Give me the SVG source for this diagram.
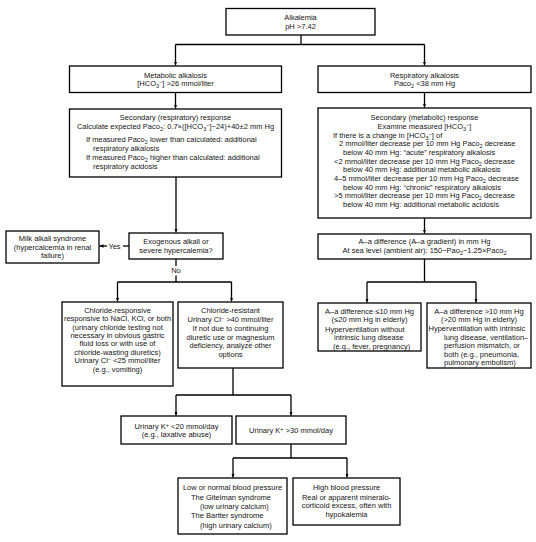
<svg xmlns="http://www.w3.org/2000/svg" width="536" height="542" viewBox="0 0 536 542">
<style>
text{font-family:"Liberation Sans",Arial,sans-serif;font-size:7.5px;fill:#151515}
.c{text-anchor:middle}
.box{fill:#fff;stroke:#000;stroke-width:1.3}
.ln{fill:none;stroke:#000;stroke-width:1.3}
.sb{font-size:5.5px;baseline-shift:-1.5px}
.sp{font-size:5.5px;baseline-shift:2px}
</style>
<defs>
<marker id="ah" markerUnits="userSpaceOnUse" viewBox="0 0 4 4" markerWidth="4" markerHeight="4" refX="4" refY="2" orient="auto">
<path d="M0,0.3 L4,2 L0,3.7 z" fill="#000"/>
</marker>
</defs>
<rect width="536" height="542" fill="#fff"/>

<g id="connectors">
<path class="ln" d="M301,35 V44.5 M175.5,44.5 H424.5"/>
<path class="ln" d="M175.5,44.5 V65.5" marker-end="url(#ah)"/>
<path class="ln" d="M424.5,44.5 V65.5" marker-end="url(#ah)"/>
<path class="ln" d="M175.5,92.5 V108.5" marker-end="url(#ah)"/>
<path class="ln" d="M424.5,92.5 V107.5" marker-end="url(#ah)"/>
<path class="ln" d="M176,177 V232.5" marker-end="url(#ah)"/>
<path class="ln" d="M129,246 H123"/>
<text x="114.5" y="248.6" class="c">Yes</text>
<path class="ln" d="M107,246 H99.5" marker-end="url(#ah)"/>
<path class="ln" d="M176,259 V266 M176,275.5 V282 M117.5,282 H231.5"/>
<text x="176" y="273.2" class="c">No</text>
<path class="ln" d="M117.5,282 V301.5" marker-end="url(#ah)"/>
<path class="ln" d="M231.5,282 V301.5" marker-end="url(#ah)"/>
<path class="ln" d="M424.5,218 V233.5" marker-end="url(#ah)"/>
<path class="ln" d="M424.5,259 V282 M367,282 H476"/>
<path class="ln" d="M367,282 V302.5" marker-end="url(#ah)"/>
<path class="ln" d="M476,282 V302.5" marker-end="url(#ah)"/>
<path class="ln" d="M233,368 V395 M176,395 H291"/>
<path class="ln" d="M176,395 V415.5" marker-end="url(#ah)"/>
<path class="ln" d="M291,395 V415.5" marker-end="url(#ah)"/>
<path class="ln" d="M291,444 V458 M233,458 H347"/>
<path class="ln" d="M233,458 V477.5" marker-end="url(#ah)"/>
<path class="ln" d="M347,458 V477.5" marker-end="url(#ah)"/>
</g>

<g id="alkalemia">
<rect class="box" x="226" y="8.5" width="149" height="26.5"/>
<text x="300.5" y="19.8" class="c">Alkalemia</text>
<text x="300.5" y="28.6" class="c">pH &gt;7.42</text>
</g>

<g id="metabolic">
<rect class="box" x="69.5" y="66" width="212" height="26.5"/>
<text x="175.5" y="77.6" class="c">Metabolic alkalosis</text>
<text x="175.5" y="86.1" class="c">[HCO<tspan class="sb">3</tspan><tspan class="sp">−</tspan>] &gt;26 mmol/liter</text>
</g>

<g id="respiratory">
<rect class="box" x="318" y="66" width="213" height="26.5"/>
<text x="424.5" y="77.6" class="c">Respiratory alkalosis</text>
<text x="424.5" y="86.1" class="c">Paco<tspan class="sb">2</tspan> &lt;38 mm Hg</text>
</g>

<g id="secondary-resp">
<rect class="box" x="69.5" y="109" width="212" height="68"/>
<text x="175.5" y="120.1" class="c">Secondary (respiratory) response</text>
<text x="175.5" y="128.6" class="c">Calculate expected Paco<tspan class="sb">2</tspan>: 0.7×([HCO<tspan class="sb">3</tspan><tspan class="sp">−</tspan>]−24)+40±2 mm Hg</text>
<text x="86" y="142.1">If measured Paco<tspan class="sb">2</tspan> lower than calculated: additional</text>
<text x="93" y="150.6">respiratory alkalosis</text>
<text x="86" y="160.1">If measured Paco<tspan class="sb">2</tspan> higher than calculated: additional</text>
<text x="93" y="168.6">respiratory acidosis</text>
</g>

<g id="secondary-metab">
<rect class="box" x="318" y="108" width="213" height="110"/>
<text x="424.5" y="120.3" class="c">Secondary (metabolic) response</text>
<text x="424.5" y="129.3" class="c">Examine measured [HCO<tspan class="sb">3</tspan><tspan class="sp">−</tspan>]</text>
<text x="333" y="137.6">If there is a change in [HCO<tspan class="sb">3</tspan><tspan class="sp">−</tspan>] of</text>
<text x="339" y="145.9">2 mmol/liter decrease per 10 mm Hg Paco<tspan class="sb">2</tspan> decrease</text>
<text x="343" y="154.9">below 40 mm Hg: “acute” respiratory alkalosis</text>
<text x="334" y="163.6">&lt;2 mmol/liter decrease per 10 mm Hg Paco<tspan class="sb">2</tspan> decrease</text>
<text x="343" y="172.3">below 40 mm Hg: additional metabolic alkalosis</text>
<text x="334" y="181.3">4–5 mmol/liter decrease per 10 mm Hg Paco<tspan class="sb">2</tspan> decrease</text>
<text x="343" y="189.6">below 40 mm Hg: “chronic” respiratory alkalosis</text>
<text x="334" y="198.3">&gt;5 mmol/liter decrease per 10 mm Hg Paco<tspan class="sb">2</tspan> decrease</text>
<text x="343" y="206.6">below 40 mm Hg: additional metabolic acidosis</text>
</g>

<g id="milk-alkali">
<rect class="box" x="6" y="231" width="93" height="32"/>
<text x="52.5" y="241.1" class="c">Milk alkali syndrome</text>
<text x="52.5" y="249.6" class="c">(hypercalcemia in renal</text>
<text x="52.5" y="258.1" class="c">failure)</text>
</g>

<g id="exogenous">
<rect class="box" x="129" y="233" width="94" height="26"/>
<text x="176" y="244.1" class="c">Exogenous alkali or</text>
<text x="176" y="252.6" class="c">severe hypercalemia?</text>
</g>

<g id="chloride-responsive">
<rect class="box" x="62" y="302" width="111" height="84"/>
<text x="117.5" y="312.8" class="c">Chloride-responsive</text>
<text x="117.5" y="321.1" class="c">responsive to NaCl, KCl, or both</text>
<text x="117.5" y="329.6" class="c">(urinary chloride testing not</text>
<text x="117.5" y="338" class="c">necessary in obvious gastric</text>
<text x="117.5" y="346.3" class="c">fluid loss or with use of</text>
<text x="117.5" y="354.6" class="c">chloride-wasting diuretics)</text>
<text x="117.5" y="363.4" class="c">Urinary Cl<tspan class="sp">−</tspan> &lt;25 mmol/liter</text>
<text x="117.5" y="372.4" class="c">(e.g., vomiting)</text>
</g>

<g id="chloride-resistant">
<rect class="box" x="178" y="302" width="105" height="66"/>
<text x="230.5" y="312.8" class="c">Chloride-resistant</text>
<text x="230.5" y="321.8" class="c">Urinary Cl<tspan class="sp">−</tspan> &gt;40 mmol/liter</text>
<text x="230.5" y="331.3" class="c">If not due to continuing</text>
<text x="230.5" y="339.6" class="c">diuretic use or magnesium</text>
<text x="230.5" y="347.9" class="c">deficiency, analyze other</text>
<text x="230.5" y="356.6" class="c">options</text>
</g>

<g id="aa-difference">
<rect class="box" x="318" y="234" width="213" height="25"/>
<text x="424.5" y="243.6" class="c">A–a  difference (A–a gradient) in mm Hg</text>
<text x="424.5" y="253.1" class="c">At sea level (ambient air): 150−Pao<tspan class="sb">2</tspan>−1.25×Paco<tspan class="sb">2</tspan></text>
</g>

<g id="aa-low">
<rect class="box" x="318" y="303" width="103" height="48"/>
<text x="369.5" y="313.6" class="c">A–a difference ≤10 mm Hg</text>
<text x="369.5" y="322.1" class="c">(≤20 mm Hg in elderly)</text>
<text x="325" y="331.6">Hyperventilation without</text>
<text x="334" y="340.1">intrinsic lung disease</text>
<text x="333" y="348.6">(e.g., fever, pregnancy)</text>
</g>

<g id="aa-high">
<rect class="box" x="427" y="303" width="104" height="65"/>
<text x="479" y="313.6" class="c">A–a difference &gt;10 mm Hg</text>
<text x="479" y="322.1" class="c">(&gt;20 mm Hg in elderly)</text>
<text x="428.5" y="331.3">Hyperventilation with intrinsic</text>
<text x="444" y="339.9">lung disease, ventilation–</text>
<text x="444" y="348.3">perfusion mismatch, or</text>
<text x="444" y="356.6">both (e.g., pneumonia,</text>
<text x="444" y="364.6">pulmonary embolism)</text>
</g>

<g id="urinary-k-low">
<rect class="box" x="121" y="416" width="111" height="28"/>
<text x="176.5" y="428.6" class="c">Urinary K<tspan class="sp">+</tspan> &lt;20 mmol/day</text>
<text x="176.5" y="437.1" class="c">(e.g., laxative abuse)</text>
</g>

<g id="urinary-k-high">
<rect class="box" x="236" y="416" width="110" height="28"/>
<text x="291" y="432.6" class="c">Urinary K<tspan class="sp">+</tspan> &gt;30 mmol/day</text>
</g>

<g id="low-bp">
<rect class="box" x="178" y="478" width="109" height="56"/>
<text x="232.5" y="490.1" class="c">Low or normal blood pressure</text>
<text x="191" y="499.6">The Gitelman syndrome</text>
<text x="200" y="508.6">(low urinary calcium)</text>
<text x="191" y="518.1">The Bartter syndrome</text>
<text x="200" y="527.6">(high urinary calcium)</text>
</g>

<g id="high-bp">
<rect class="box" x="293" y="478" width="107" height="47"/>
<text x="346.5" y="490.1" class="c">High blood pressure</text>
<text x="346.5" y="499.6" class="c">Real or apparent mineralo-</text>
<text x="346.5" y="508.1" class="c">corticoid excess, often with</text>
<text x="346.5" y="516.6" class="c">hypokalemia</text>
</g>
</svg>
